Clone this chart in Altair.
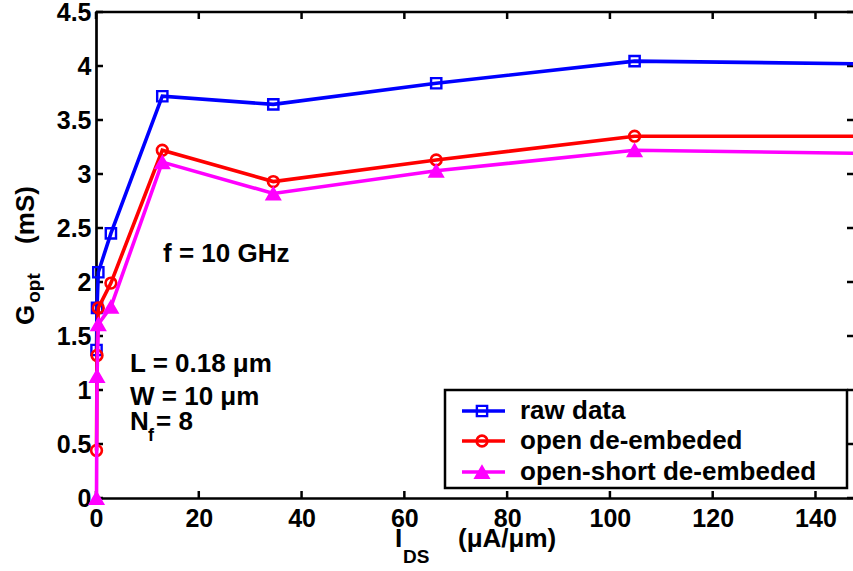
import altair as alt
import pandas as pd

# ---- data ----
ids_x = [0.1, 0.2, 0.45, 2.9, 12.9, 34.5, 66.2, 104.8, 150]
raw_data = [1.37, 1.76, 2.09, 2.45, 3.72, 3.645, 3.84, 4.045, 4.02]
open_deemb = [0.44, 1.32, 1.76, 1.99, 3.22, 2.93, 3.13, 3.35, 3.35]
open_short_deemb = [0.0, 1.13, 1.61, 1.77, 3.11, 2.82, 3.03, 3.22, 3.19]
series = ["raw data", "open de-embeded", "open-short de-embeded"]
colors = ["#0000FF", "#FF0000", "#FF00FF"]
x_ticks = [0, 20, 40, 60, 80, 100, 120, 140]
y_ticks = [0, 0.5, 1, 1.5, 2, 2.5, 3, 3.5, 4, 4.5]

W, H = 757, 486
FONT = "Liberation Sans"

xs = alt.Scale(domain=[0, 147.3], nice=False, zero=False)
ys = alt.Scale(domain=[0, 4.5], nice=False, zero=False)

common_axis = dict(ticks=False, domain=True, domainWidth=2.7, domainColor="black",
                   domainCap="square", labelFont=FONT, labelFontSize=25,
                   labelFontWeight="bold", labelColor="black", grid=False, title="",
                   labelFlush=False, labelOverlap=False)
xaxis = alt.Axis(values=x_ticks, format="d", labelPadding=8, **common_axis)
yaxis = alt.Axis(values=y_ticks, format=".1~f", labelPadding=5, **common_axis)

xenc = alt.X("I:Q", scale=xs, axis=xaxis)
yenc = alt.Y("G:Q", scale=ys, axis=yaxis)

dummy = pd.DataFrame({"a": [0]})
layers = []

# frame (top line) and inward ticks
layers.append(alt.Chart(dummy).mark_rule(color="black", strokeWidth=2.7).encode(
    x=alt.value(0), x2=alt.value(W + 3), y=alt.value(0)))
xt = pd.DataFrame({"I": x_ticks})
yt = pd.DataFrame({"G": y_ticks})
layers.append(alt.Chart(xt).mark_rule(color="black", strokeWidth=2.5).encode(
    x=xenc, y=alt.value(H), y2=alt.value(H - 7)))
layers.append(alt.Chart(xt).mark_rule(color="black", strokeWidth=2.5).encode(
    x=xenc, y=alt.value(0), y2=alt.value(7)))
layers.append(alt.Chart(yt).mark_rule(color="black", strokeWidth=2.5).encode(
    y=yenc, x=alt.value(0), x2=alt.value(7)))
layers.append(alt.Chart(yt).mark_rule(color="black", strokeWidth=2.5).encode(
    y=yenc, x=alt.value(W + 1), x2=alt.value(W - 6)))

values = [raw_data, open_deemb, open_short_deemb]
marker_specs = [
    dict(shape="square", filled=False, size=105, strokeWidth=2.4),
    dict(shape="circle", filled=False, size=115, strokeWidth=2.6),
    dict(shape="triangle-up", filled=True, size=210, strokeWidth=1.5),
]

for name, vals, col, ms in zip(series, values, colors, marker_specs):
    df = pd.DataFrame({"I": ids_x, "G": vals, "idx": list(range(len(ids_x))), "series": name})
    layers.append(alt.Chart(df).mark_line(color=col, strokeWidth=3.6).encode(
        x=xenc, y=yenc, order="idx:Q"))
    pm = dict(ms)
    if pm["filled"]:
        pm["stroke"] = col
    layers.append(alt.Chart(df).mark_point(color=col, opacity=1, **pm).encode(x=xenc, y=yenc))

# legend box
layers.append(alt.Chart(dummy).mark_rect(fill="white", stroke="black", strokeWidth=2.5).encode(
    x=alt.value(349), x2=alt.value(751), y=alt.value(378), y2=alt.value(476)))
row_c = [399, 429, 460]
row_b = [407, 437, 468]
for name, col, ms, yc, yb in zip(series, colors, marker_specs, row_c, row_b):
    layers.append(alt.Chart(dummy).mark_rule(color=col, strokeWidth=3.6).encode(
        x=alt.value(366), x2=alt.value(409), y=alt.value(yc)))
    pm = dict(ms)
    if pm["filled"]:
        pm["stroke"] = col
    layers.append(alt.Chart(dummy).mark_point(color=col, opacity=1, **pm).encode(
        x=alt.value(386), y=alt.value(yc)))
    layers.append(alt.Chart(dummy).mark_text(
        text=name, font=FONT, fontSize=26, fontWeight="bold", color="black",
        align="left", baseline="alphabetic").encode(x=alt.value(424), y=alt.value(yb)))


def txt(t, x, y, size=26, angle=0, align="left"):
    kw = dict(text=t, font=FONT, fontSize=size, fontWeight="bold", color="black",
              align=align, baseline="alphabetic")
    if angle:
        kw["angle"] = angle
    return alt.Chart(dummy).mark_text(**kw).encode(x=alt.value(x), y=alt.value(y))


# annotations
layers.append(txt("f = 10 GHz", 67, 250))
layers.append(txt("L = 0.18 μm", 34, 360))
layers.append(txt("W = 10 μm", 34, 393))
layers.append(txt("N", 34, 418))
layers.append(txt("f", 52, 429, size=18))
layers.append(txt("= 8", 60, 418))

# axis titles
layers.append(txt("I", 299, 535))
layers.append(txt("DS", 307, 551, size=19))
layers.append(txt("(μA/μm)", 362, 535))
layers.append(txt("G", -62, 303, angle=270, align="center"))
layers.append(txt("opt", -56, 276, size=19, angle=270, align="center"))
layers.append(txt("(mS)", -62, 203, angle=270, align="center"))

chart = alt.layer(*layers).properties(
    width=W, height=H,
    padding={"left": 96, "top": 12, "right": 0, "bottom": 73},
    autosize=alt.AutoSizeParams(type="none"),
    background="white",
).configure_view(strokeWidth=0)

chart.save("out.html", embed_options={"renderer": "svg", "actions": False})
